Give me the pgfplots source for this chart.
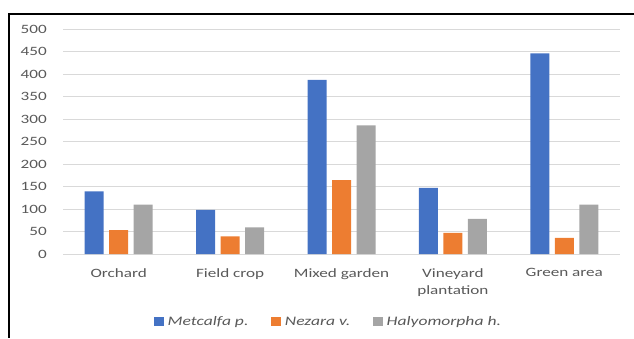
\documentclass[border=0pt]{standalone}
\usepackage{pgfplots}
\pgfplotsset{compat=1.18}
\usepackage{fontspec}
\setmainfont{Carlito}[FakeStretch=1.35]
\definecolor{cblue}{HTML}{4472C4}
\definecolor{corange}{HTML}{ED7D31}
\definecolor{cgray}{HTML}{A5A5A5}
\definecolor{gridc}{HTML}{D9D9D9}
\definecolor{txt}{HTML}{595959}
\begin{document}
\begin{tikzpicture}
\path[use as bounding box] (0pt,0pt) rectangle (634pt,338pt);
\draw[black, line width=1.3pt] (8pt,324pt) -- (634pt,324pt);
\draw[black, line width=1.3pt] (9pt,324.6pt) -- (9pt,0pt);
\begin{axis}[
  at={(63pt,84pt)}, anchor=south west,
  scale only axis, width=557pt, height=225pt,
  xmin=-0.5, xmax=4.5, ymin=0, ymax=500,
  ytick={0,50,...,500},
  xtick={0,1,2,3,4},
  xticklabels={Orchard,Field crop,Mixed garden,{Vineyard\\plantation},Green area},
  axis line style={draw=none},
  major tick length=0pt,
  ymajorgrids, major grid style={gridc, line width=1pt},
  yticklabel style={anchor=east, inner sep=0pt, xshift=-16pt, font=\fontsize{12.7}{15}\selectfont, text=txt},
  xticklabel style={anchor=north, inner sep=0pt, yshift=-14pt, align=center, font=\fontsize{12.7}{17.5}\selectfont, text=txt},
  /pgf/number format/assume math mode=true,
  ybar, bar width=19pt,
  legend columns=3,
  legend style={at={(0.475,-0.302)}, anchor=center, draw=none, fill=none,
    font=\fontsize{13}{15}\selectfont\itshape, text=txt,
    nodes={inner sep=0pt},
    /tikz/every odd column/.append style={column sep=4pt},
    /tikz/every even column/.append style={column sep=23pt}},
  legend image code/.code={\fill[#1] (0pt,-4.5pt) rectangle (9.5pt,4.5pt);},
]
\addplot[fill=cblue, draw=none, bar shift=-24.5pt] coordinates {(0,139) (1,98) (2,387) (3,147) (4,446)};
\addplot[fill=corange, draw=none, bar shift=0pt] coordinates {(0,53) (1,39) (2,164) (3,47) (4,36)};
\addplot[fill=cgray, draw=none, bar shift=24.5pt] coordinates {(0,110) (1,59) (2,286) (3,78) (4,110)};
\legend{Metcalfa p.,Nezara v.,Halyomorpha h.}
\end{axis}
\end{tikzpicture}
\end{document}
